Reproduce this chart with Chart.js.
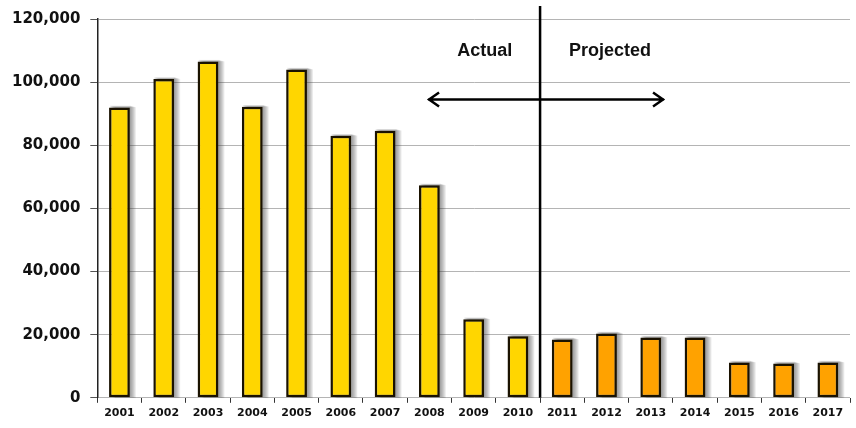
<!DOCTYPE html>
<html>
<head>
<meta charset="utf-8">
<script src="https://cdn.jsdelivr.net/npm/chart.js@4/dist/chart.umd.min.js"></script>
<style>
  html, body { margin: 0; padding: 0; background: #fff; }
  #wrap { width: 856px; height: 428px; }
</style>
</head>
<body>
<div id="wrap"><canvas id="chart" width="856" height="428"></canvas></div>
<script>
const years = ['2001', '2002', '2003', '2004', '2005', '2006', '2007', '2008', '2009',
  '2010', '2011', '2012', '2013', '2014', '2015', '2016', '2017']
const actualValues = [92000, 101000, 106500, 92200, 104000, 83000, 84600, 67300, 24900, 19500]
const projectedValues = [18500, 20400, 19100, 19100, 11200, 10900, 11200]
const yTicks = [0, 20000, 40000, 60000, 80000, 100000, 120000]

const ACTUAL_COLOR = '#ffd600'
const PROJECTED_COLOR = '#ffa200'

const allValues = actualValues.concat(projectedValues)
const barColors = allValues.map((v, i) => i < actualValues.length ? ACTUAL_COLOR : PROJECTED_COLOR)

// soft gray shadow to the right of every bar, layered by hand
const barShadow = {
  id: 'barShadow',
  beforeDatasetsDraw(chart) {
    const ctx = chart.ctx
    const bars = chart.getDatasetMeta(0).data
    ctx.save()
    ctx.fillStyle = 'rgba(60,60,60,0.1)'
    bars.forEach(bar => {
      const { x, y, base, width } = bar.getProps(['x', 'y', 'base', 'width'], true)
      const left = x - width / 2
      for (let k = 1; k <= 6; k++) {
        ctx.fillRect(left + k, y - 2 + k * 0.3, width, base - y + 1)
      }
    })
    ctx.restore()
  }
}

// divider between actual and projected, the arrow and the two captions
const divider = {
  id: 'divider',
  afterDatasetsDraw(chart) {
    const { ctx, scales: { x, y } } = chart
    const split = actualValues.length
    const lineX = (x.getPixelForValue(split - 1) + x.getPixelForValue(split)) / 2
    ctx.save()
    ctx.strokeStyle = '#000'
    ctx.lineWidth = 2.5
    ctx.beginPath()
    ctx.moveTo(lineX, 6)
    ctx.lineTo(lineX, y.getPixelForValue(0))
    ctx.stroke()

    const arrowY = y.getPixelForValue(94500)
    const left = x.getPixelForValue(6.97)
    const right = x.getPixelForValue(12.3)
    ctx.lineWidth = 2.5
    ctx.beginPath()
    ctx.moveTo(left, arrowY)
    ctx.lineTo(right, arrowY)
    ctx.moveTo(left + 11, arrowY - 7)
    ctx.lineTo(left + 1, arrowY)
    ctx.lineTo(left + 11, arrowY + 7)
    ctx.moveTo(right - 11, arrowY - 7)
    ctx.lineTo(right - 1, arrowY)
    ctx.lineTo(right - 11, arrowY + 7)
    ctx.stroke()

    ctx.fillStyle = '#111'
    ctx.font = 'bold 18px "Liberation Sans", Arial, sans-serif'
    ctx.textAlign = 'center'
    ctx.textBaseline = 'middle'
    const textY = y.getPixelForValue(110000)
    ctx.fillText('Actual', x.getPixelForValue(8.25), textY)
    ctx.fillText('Projected', x.getPixelForValue(11.08), textY)
    ctx.restore()
  }
}

new Chart(document.getElementById('chart'), {
  type: 'bar',
  data: {
    labels: years,
    datasets: [{
      data: allValues,
      backgroundColor: barColors,
      borderColor: '#1a1200',
      borderWidth: 2.5,
      borderSkipped: false,
      categoryPercentage: 1,
      barPercentage: 0.47
    }]
  },
  options: {
    responsive: false,
    animation: false,
    layout: {
      padding: { top: 17, right: 6, left: 2, bottom: 4 }
    },
    plugins: {
      legend: { display: false },
      tooltip: { enabled: false }
    },
    scales: {
      x: {
        grid: {
          offset: true,
          drawOnChartArea: false,
          tickLength: 5,
          tickColor: '#333'
        },
        border: { display: false },
        ticks: {
          color: '#111',
          padding: 4,
          maxRotation: 0,
          autoSkip: false,
          font: { family: 'DejaVu Sans', weight: 'bold', size: 11 }
        }
      },
      y: {
        min: 0,
        max: 120000,
        afterBuildTicks(axis) {
          axis.ticks = yTicks.map(v => ({ value: v }))
        },
        grid: {
          color: '#b4b4b4',
          lineWidth: 1,
          tickLength: 7,
          tickColor: '#555'
        },
        border: { display: true, color: '#222', width: 1.5 },
        ticks: {
          color: '#111',
          padding: 10,
          font: { family: 'DejaVu Sans', weight: 'bold', size: 15 },
          callback: v => v.toLocaleString('en-US')
        }
      }
    }
  },
  plugins: [barShadow, divider]
})
</script>
</body>
</html>
